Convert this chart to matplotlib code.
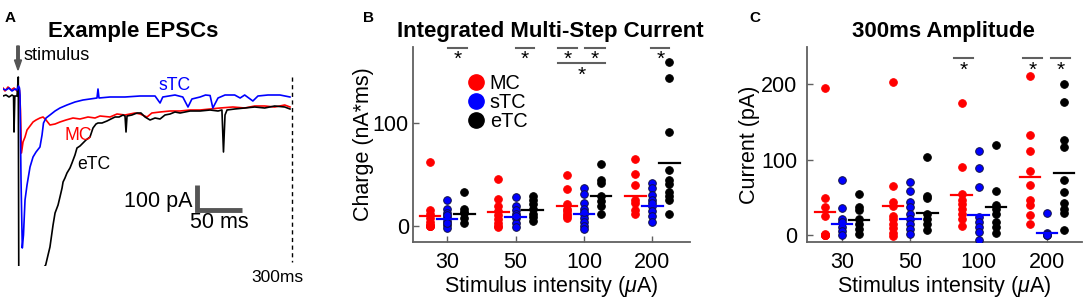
import matplotlib
matplotlib.use("Agg")
import matplotlib.pyplot as plt
from matplotlib.lines import Line2D

plt.rcParams['font.family'] = ['Liberation Sans', 'DejaVu Sans']
plt.rcParams['mathtext.fontset'] = 'custom'
plt.rcParams['mathtext.it'] = 'Liberation Sans:italic'
plt.rcParams['mathtext.rm'] = 'Liberation Sans'

# ---------------- Panel A data: example EPSC traces (time ms, current pA) -------------
stc_t = [-17.6, -14.3, -11, -7.7, -4.4, -2.2, -0.5, 0.5, 1.1, 2.2, 3.6, 4.9, 6.6, 8.8, 12.1, 15.4,
         18.7, 23, 25.3, 26.9, 29.7, 34, 39.6, 45, 52.7, 61.5, 70.3, 78, 85.7, 86.8, 87.9, 100,
         116.5, 133, 149.5, 155, 158, 171.4, 180, 185.7, 190, 199, 205, 210, 213, 218.7, 226.4,
         237, 243, 248, 257, 262.6, 273.6, 286.8, 297.8]
stc_i = [4, 0, 8, -4, 4, 0, 16, 8, -20, -360, -632, -580, -440, -380, -308, -268,
         -248, -228, -180, -132, -112, -100, -84, -72, -60, -48, -40, -36, -32, 4, -32, -28,
         -28, -24, -24, -52, -28, -20, -28, -68, -36, -28, -20, -22, -72, -32, -20,
         -20, -32, -20, -44, -24, -20, -20, -28]

mc_t = [-17.6, -15.4, -12.1, -8.8, -5.5, -2.2, 0.5, 1.6, 2.7, 4.4, 6.6, 8.8, 12.1, 15.4, 18.7,
        23, 26.4, 29.7, 34, 39.6, 45, 51.6, 59.3, 67, 75.8, 83.5, 89, 100, 107.7, 116.5, 127.5,
        133, 140.7, 146, 155, 166, 177, 188, 199, 210, 221, 235, 248, 259, 270, 281, 292, 297.8]
mc_i = [8, -4, 12, 0, 8, -4, 0, -80, -252, -208, -188, -160, -144, -128, -120,
        -112, -108, -120, -140, -136, -128, -120, -112, -116, -108, -112, -104, -108, -96, -100, -92,
        -96, -108, -92, -88, -84, -84, -80, -80, -76, -72, -68, -72, -64, -64, -68, -60, -68]

etc_t = [-17.6, -14.3, -11, -7.7, -6, -5.5, -4.6, -2.2, -0.8, -0.2, 29.3, 31.9, 34, 37.4, 39.6,
         42.9, 45, 47.3, 48.4, 50.5, 52.7, 56, 58.2, 61.5, 63.7, 67, 70.3, 73.6, 78, 81.3, 84.6,
         86.8, 91.2, 96.7, 101, 105.5, 110, 114.3, 116.5, 117.6, 118.7, 124, 129.7, 134, 138.5,
         144, 149.5, 155, 160.4, 166, 171.4, 177, 188, 199, 210, 218.7, 223, 224.7, 226.4, 228.6,
         237, 248, 259, 270, 281, 292, 297.8]
etc_i = [-24, -20, -28, -20, -24, -168, -24, -24, 52, -840, -700, -660, -628, -540, -492,
         -460, -428, -392, -368, -352, -332, -312, -292, -260, -232, -224, -212, -200, -188, -152, -136,
         -132, -132, -124, -116, -108, -108, -100, -104, -168, -104, -100, -92, -92, -108,
         -120, -112, -116, -100, -96, -88, -92, -84, -84, -80, -84, -80, -248, -100, -80,
         -76, -72, -68, -72, -64, -68, -76]

# ---------------- Panels B / C data ---------------------------------------------------
intensity_labels = ['30', '50', '100', '200']
groups = ['MC', 'sTC', 'eTC']

b_mc = [[62, 16, 12, 7.5, 4, 0, 0, 0, 0, 1],
        [46, 26, 19, 14.5, 10.7, 6.5, 2.6, -0.6, 0.5],
        [50, 36, 21, 17, 12, 7.5, 10, 15],
        [65, 51, 40, 25, 22, 15.6, 12]]
b_stc = [[25, 17, 13, 9, 5, 1, -1.6, 3, 11],
         [28, 19, 16, 12, 7.5, 3.2, -0.6, 10],
         [37, 31, 22, 17, 12, 8, 4, 0, -3, 14],
         [42, 37, 30, 25, 19, 15, 10, 4, 22]]
b_etc = [[33, 17, 12.3, 8, 2.6, 14],
         [29, 25, 21, 17, 12, 8.4, 5],
         [60, 45, 42, 29, 24, 19, 12],
         [159, 144, 91, 54, 45, 41, 33, 29, 25, 12]]
b_mc_mean = [9.7, 13.9, 19, 29]
b_stc_mean = [6.5, 9, 11.4, 19]
b_etc_mean = [12, 16, 29, 61]

c_mc = [[195, 49, 37, 25, 1, 0, 0, 0, 0, 0],
        [203, 65, 44, 38, 26, 21, 14.5, 9, 3, -1],
        [175, 90, 54, 46, 41, 35, 28.6, 22, 12],
        [211, 132, 112, 84.5, 66, 47, 39.6, 26.4, 15.4]]
c_stc = [[73, 36, 22, 17.6, 11, 5, 0],
         [70, 58.6, 44, 37, 28.6, 22, 15.4, 8.8, 2],
         [112, 89, 64, 24, 17.6, 11, 4.4, -6.6],
         [30, 3, 1, 0, 0, 0]]
c_etc = [[55, 37, 33, 22, 15.4, 8.8, 2],
         [104, 52, 49, 28.6, 22, 15.4, 6.6],
         [119, 59, 40.5, 35, 28.6, 17.6, 11, 3],
         [200, 176, 126, 117, 73, 57, 42, 35, 30, 6.6]]
c_mc_mean = [31, 38, 53, 77]
c_stc_mean = [14.5, 22, 27, 3]
c_etc_mean = [20.7, 29.5, 37.4, 81.7]

# significance bars: (x start, x end, y)
b_sig = [(1.01, 1.29, 173), (2.0, 2.27, 173), (2.62, 2.9, 173), (3.02, 3.3, 173),
         (2.62, 3.3, 158), (3.98, 4.25, 173)]
c_sig = [(2.64, 2.92, 234), (3.65, 3.93, 234), (4.06, 4.34, 234)]

# ---------------- figure --------------------------------------------------------------
W, H = 1084, 304
fig = plt.figure(figsize=(W / 100, H / 100), dpi=100)


def fx(px):
    return px / W


def fy(py):
    return 1 - py / H


RED, BLUE, BLACK = '#ff0000', '#0000ff', '#000000'
GRAY = '#606060'

# ---- Panel A
axA = fig.add_axes([fx(3), fy(266), fx(300) - fx(3), fy(70) - fy(266)])
axA.set_xlim(-17.6, 308.8)
axA.set_ylim(-704, 80)
axA.axis('off')
axA.plot(mc_t, mc_i, color=RED, lw=1.2)
axA.plot(etc_t, etc_i, color=BLACK, lw=1.2)
axA.plot(stc_t, stc_i, color=BLUE, lw=1.2)
axA.plot([300, 300], [52, -688], color='black', lw=1, ls=(0, (3, 2.5)))
# scale bar 100 pA / 50 ms
axA.plot([195.6, 195.6, 245.6], [-380, -480, -480], color='#555555', lw=3.5,
         solid_joinstyle='miter', solid_capstyle='butt')
axA.text(191, -448, '100 pA', ha='right', va='center', fontsize=15.5)
axA.text(188, -530, '50 ms', ha='left', va='center', fontsize=15.5)
axA.text(171, 20, 'sTC', color=BLUE, ha='center', va='center', fontsize=12.7)
axA.text(65, -180, 'MC', color=RED, ha='center', va='center', fontsize=12.7)
axA.text(82, -298, 'eTC', color=BLACK, ha='center', va='center', fontsize=12.7)

fig.text(fx(277), fy(277), '300ms', ha='center', va='center', fontsize=12.5)
fig.text(fx(23), fy(55), 'stimulus', ha='left', va='center', fontsize=13)
fig.patches.append(matplotlib.patches.FancyArrow(
    fx(18), fy(46), 0, fy(70) - fy(46), width=fx(2.5), head_width=fx(7),
    head_length=(fy(60) - fy(70)), length_includes_head=True,
    color='#555555', transform=fig.transFigure))
fig.text(fx(133), fy(32), 'Example EPSCs', ha='center', va='center',
         fontsize=16, fontweight='bold')
fig.text(fx(5), fy(18), 'A', ha='left', va='center', fontsize=11, fontweight='bold')


# ---- Panels B and C
def scatter_panel(ax, mc, stc, etc, mc_m, stc_m, etc_m, sig):
    off = {'MC': -0.25, 'sTC': 0.0, 'eTC': 0.25}
    for k in range(4):
        x0 = k + 1
        for name, vals, col, mean in (('MC', mc[k], RED, mc_m[k]),
                                      ('sTC', stc[k], BLUE, stc_m[k]),
                                      ('eTC', etc[k], BLACK, etc_m[k])):
            xx = x0 + off[name]
            mec = '#10104a' if name == 'sTC' else col
            ax.plot([xx] * len(vals), vals, 'o', color=col, mec=mec, mew=0.7,
                    ms=5.5, ls='none', zorder=3)
            ax.plot([xx - 0.15, xx + 0.15], [mean, mean], color=col, lw=1.6, zorder=4)
    for x1, x2, y in sig:
        ax.plot([x1, x2], [y, y], color=GRAY, lw=1.5, clip_on=False)
        ax.annotate('*', xy=((x1 + x2) / 2, y), xytext=(0, -1.5), textcoords='offset points',
                    ha='center', va='top', fontsize=15, annotation_clip=False)
    ax.set_xlim(0.5, 4.55)
    ax.set_xticks([1, 2, 3, 4])
    ax.set_xticklabels(intensity_labels)
    for s in ('top', 'right'):
        ax.spines[s].set_visible(False)
    for s in ('left', 'bottom'):
        ax.spines[s].set_color(GRAY)
        ax.spines[s].set_linewidth(1.3)
    ax.tick_params(direction='in', length=4, width=1, color=GRAY, labelsize=15.5, pad=7)
    ax.set_xlabel('Stimulus intensity ($\\mu$A)', fontsize=15.5, labelpad=1)


axB = fig.add_axes([fx(413), fy(242), fx(690) - fx(413), fy(47) - fy(242)])
scatter_panel(axB, b_mc, b_stc, b_etc, b_mc_mean, b_stc_mean, b_etc_mean, b_sig)
axB.set_ylim(-15.5, 174)
axB.set_yticks([0, 100])
axB.tick_params(axis='y', pad=3)
axB.set_ylabel('Charge (nA*ms)', fontsize=15.5, labelpad=-1)
handles = [Line2D([], [], marker='o', ls='none', color=c, mec=c, ms=11)
           for c in (RED, BLUE, BLACK)]
axB.legend(handles, groups, loc='upper left', bbox_to_anchor=(0.148, 0.915), frameon=False,
           fontsize=14.3, handletextpad=0.1, labelspacing=0.0, borderpad=0, handlelength=1.2)
fig.text(fx(550), fy(32), 'Integrated Multi-Step Current', ha='center', va='center',
         fontsize=16, fontweight='bold')
fig.text(fx(368), fy(18), 'B', ha='center', va='center', fontsize=11, fontweight='bold')

axC = fig.add_axes([fx(807), fy(242), fx(1082) - fx(807), fy(47) - fy(242)])
scatter_panel(axC, c_mc, c_stc, c_etc, c_mc_mean, c_stc_mean, c_etc_mean, c_sig)
axC.set_xlim(0.49, 4.51)
axC.set_ylim(-9, 249)
axC.set_yticks([0, 100, 200])
axC.set_ylabel('Current (pA)', fontsize=15.5, labelpad=1)
fig.text(fx(943), fy(32), '300ms Amplitude', ha='center', va='center',
         fontsize=16, fontweight='bold')
fig.text(fx(755), fy(18), 'C', ha='center', va='center', fontsize=11, fontweight='bold')

fig.savefig('out.png', dpi=100)
